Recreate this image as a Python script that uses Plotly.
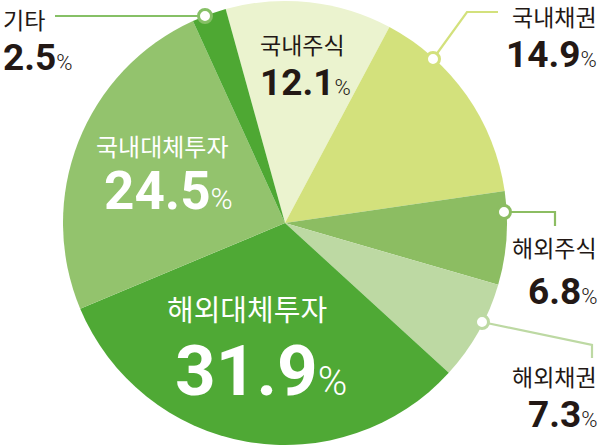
import math
import plotly.graph_objects as go

# ---- data ----
categories = ["국내주식", "국내채권", "해외주식", "해외채권", "해외대체투자", "국내대체투자", "기타"]
values = [12.1, 14.9, 6.8, 7.3, 31.9, 24.5, 2.5]
colors = ["#ebf3cf", "#d3e17c", "#8cbd62", "#bdd9a3", "#4fa935", "#93c36d", "#4ea833"]

W, H = 600, 448
CX, CY, R = 285, 223, 222
ROT = -15.5


def px(x, y):
    return x / W, 1 - y / H


fig = go.Figure(go.Pie(
    labels=categories, values=values, sort=False, direction="clockwise",
    rotation=ROT, marker=dict(colors=colors, line=dict(width=0)),
    textinfo="none", hoverinfo="label+value", showlegend=False,
    domain=dict(x=[(CX - R) / W, (CX + R) / W], y=[1 - (CY + R) / H, 1 - (CY - R) / H]),
))

KR = "Noto Sans CJK KR"
NUM = "Roboto"
DARK = "#231815"

annotations = []
shapes = []


def label(text, x, y, size, color, xanchor="center"):
    ax, ay = px(x, y)
    annotations.append(dict(text=text, x=ax, y=ay, xref="paper", yref="paper",
                            xanchor=xanchor, yanchor="middle", showarrow=False,
                            font=dict(family=KR, size=size, color=color)))


def number(val, x, y, size, psize, color, xanchor="center"):
    ax, ay = px(x, y)
    txt = f"<b>{val}</b><span style='font-size:{psize}px;font-weight:300'>%</span>"
    annotations.append(dict(text=txt, x=ax, y=ay, xref="paper", yref="paper",
                            xanchor=xanchor, yanchor="middle", showarrow=False,
                            font=dict(family=NUM, size=size, color=color)))


# inside labels
label(categories[0], 302, 44, 23, DARK)
number(values[0], 305, 82, 37, 22, DARK)
label(categories[5], 162, 145, 24, "white")
number(values[5], 168, 191, 53, 30, "white")
label(categories[4], 247, 308, 29, "white")
number(values[4], 261, 370, 71, 40, "white")

# outside labels
label(categories[6], 1, 19, 23, DARK, "left")
number(values[6], 1, 58, 37, 22, DARK, "left")
label(categories[1], 599, 16, 23, DARK, "right")
number(values[1], 599, 54, 37, 22, DARK, "right")
label(categories[2], 599, 247, 23, DARK, "right")
number(values[2], 599, 291, 37, 22, DARK, "right")
label(categories[3], 599, 376, 23, DARK, "right")
number(values[3], 599, 414, 37, 22, DARK, "right")


# leader lines (pixel paths) + markers
def path(points, color):
    d = ""
    for i, (x, y) in enumerate(points):
        d += ("M" if i == 0 else "L") + f"{x},{H - y} "
    shapes.append(dict(type="path", path=d.strip(), xref="x", yref="y",
                       line=dict(color=color, width=2.2), layer="above"))


def marker(x, y, color, r=6.5):
    shapes.append(dict(type="circle", xref="x", yref="y",
                       x0=x - r, x1=x + r, y0=H - y - r, y1=H - y + r,
                       fillcolor="white", line=dict(color=color, width=3), layer="above"))


leaders = [
    ([(205, 16), (55, 16)], "#86c066"),
    ([(433, 59), (467, 12), (498, 12)], "#d3e17c"),
    ([(504, 212), (555, 212), (555, 226)], "#8cbd62"),
    ([(482, 322), (592, 345), (592, 358)], "#bdd9a3"),
]
for pts, c in leaders:
    path(pts, c)
for pts, c in leaders:
    marker(pts[0][0], pts[0][1], c)

fig.update_layout(
    width=W, height=H, margin=dict(l=0, r=0, t=0, b=0),
    paper_bgcolor="white", plot_bgcolor="rgba(0,0,0,0)",
    xaxis=dict(range=[0, W], visible=False, fixedrange=True),
    yaxis=dict(range=[0, H], visible=False, fixedrange=True),
    annotations=annotations, shapes=shapes,
)

fig.write_html("out.html", config=dict(displayModeBar=False),
               post_script="document.body.style.margin='0';document.body.style.overflow='hidden';")
